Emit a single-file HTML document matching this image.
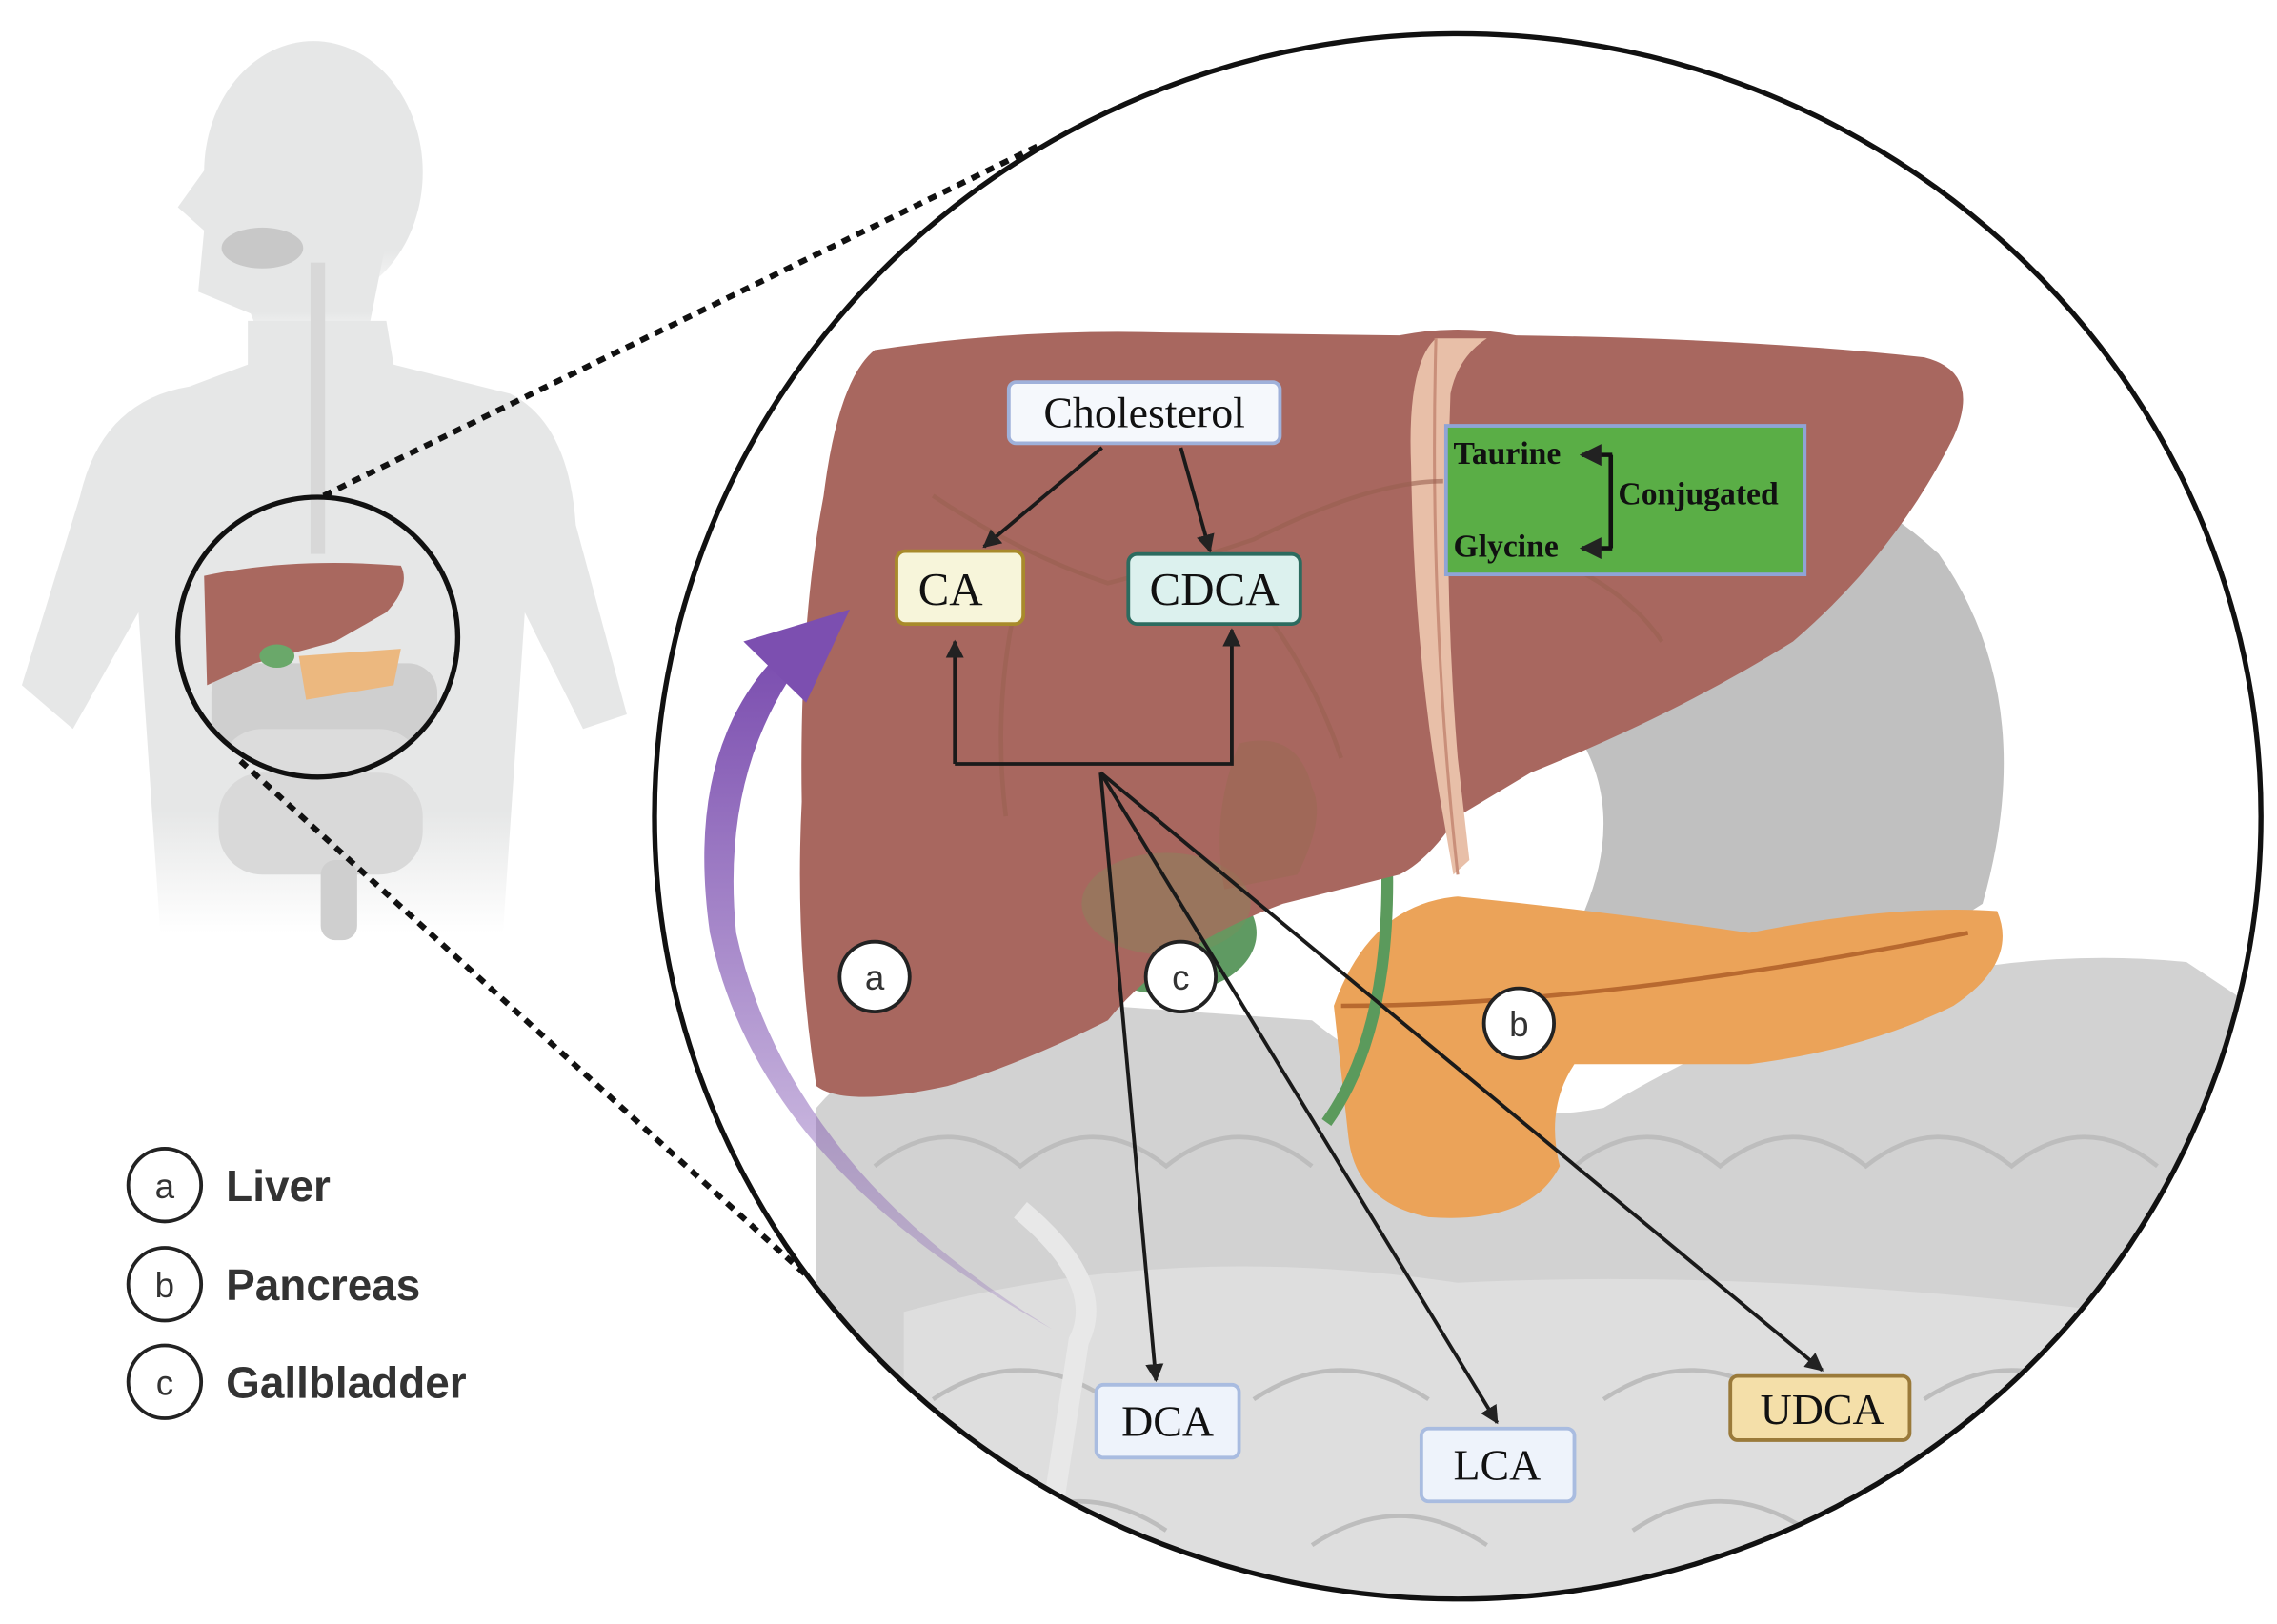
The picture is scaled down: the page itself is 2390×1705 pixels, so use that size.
<!DOCTYPE html>
<html><head><meta charset="utf-8"><style>
html,body{margin:0;padding:0;background:#fff;}
svg{display:block;}
.t{font-family:"Liberation Serif",serif;fill:#111;}
.s{font-family:"Liberation Sans",sans-serif;fill:#333;}
</style></head><body>
<svg width="2390" height="1705" viewBox="0 0 1562 1114" xmlns="http://www.w3.org/2000/svg">
<defs>
<marker id="ah" viewBox="0 0 10 10" refX="9" refY="5" markerWidth="5" markerHeight="5" orient="auto"><path d="M0,0 L10,5 L0,10 z" fill="#222"/></marker>
<clipPath id="bc"><ellipse cx="1000" cy="560" rx="551" ry="537"/></clipPath>
<clipPath id="sc"><circle cx="218" cy="437" r="95"/></clipPath>
<linearGradient id="fade" x1="0" y1="0" x2="0" y2="1"><stop offset="0.8" stop-color="#e6e7e7"/><stop offset="1" stop-color="#e6e7e7" stop-opacity="0"/></linearGradient>
<linearGradient id="pg" x1="0" y1="0" x2="0" y2="1"><stop offset="0" stop-color="#7c4fb0" stop-opacity="1"/><stop offset="1" stop-color="#7c4fb0" stop-opacity="0.2"/></linearGradient>
</defs>
<!-- human silhouette -->
<g fill="url(#fade)">
<ellipse cx="215" cy="118" rx="75" ry="90"/>
<path d="M145,110 L122,142 L140,158 L136,200 L172,215 L182,240 L250,240 L262,180 L275,120 Z"/>
<path d="M170,220 L265,220 L270,250 L350,270 Q390,290 395,360 L430,490 L400,500 L360,420 L345,640 L110,640 L95,420 L50,500 L15,470 L55,340 Q70,275 130,265 L170,250 Z"/>
</g>
<path d="M218,180 L218,380" stroke="#d8d8d8" stroke-width="10" fill="none"/>
<ellipse cx="180" cy="170" rx="28" ry="14" fill="#c8c8c8"/>
<g clip-path="url(#sc)">
<rect x="145" y="455" width="155" height="60" rx="20" fill="#cfcfcf"/>
<rect x="150" y="500" width="140" height="100" rx="30" fill="#dcdcdc"/>
<path d="M140,395 Q200,382 275,388 Q282,402 265,420 L230,440 L175,455 L142,470 Z" fill="#a9685f"/>
<path d="M205,450 L275,445 L270,470 L210,480 Z" fill="#ecb87f"/>
<ellipse cx="190" cy="450" rx="12" ry="8" fill="#6aa86a"/>
</g>
<g fill="#cfcfcf">
<rect x="150" y="530" width="140" height="70" rx="30" fill="#d9d9d9"/>
<rect x="220" y="590" width="25" height="55" rx="10"/>
</g>
<circle cx="218" cy="437" r="96" fill="none" stroke="#111" stroke-width="3.5"/>
<!-- dotted lines -->
<line x1="222" y1="340" x2="712" y2="100" stroke="#111" stroke-width="4" stroke-dasharray="6,5"/>
<line x1="165" y1="522" x2="572" y2="892" stroke="#111" stroke-width="4" stroke-dasharray="6,5"/>
<!-- big circle contents -->
<ellipse cx="1000" cy="560" rx="551" ry="537" fill="#fff"/>
<g clip-path="url(#bc)">
<path d="M960,320 Q1200,260 1330,380 Q1400,480 1360,620 L1250,690 Q1150,700 1080,640 Q1120,560 1080,500 L940,470 Z" fill="#c0c0c0"/>
<path d="M560,760 Q620,690 760,690 L900,700 Q1000,780 1100,760 Q1300,640 1500,660 L1560,700 L1560,1120 L560,1120 Z" fill="#d2d2d2"/>
<path d="M620,900 Q800,850 1000,880 Q1200,870 1450,900 L1450,1120 L620,1120 Z" fill="#dedede"/>
<g fill="none" stroke="#bdbdbd" stroke-width="3">
<path d="M600,800 Q650,760 700,800 Q750,760 800,800 Q850,760 900,800"/>
<path d="M1080,800 Q1130,760 1180,800 Q1230,760 1280,800 Q1330,760 1380,800 Q1430,760 1480,800"/>
<path d="M640,960 Q700,920 760,960 M860,960 Q920,920 980,960 M1100,960 Q1160,920 1220,960 M1320,960 Q1380,920 1440,960"/>
<path d="M680,1050 Q740,1010 800,1050 M900,1060 Q960,1020 1020,1060 M1120,1050 Q1180,1010 1240,1050"/>
</g>
<path d="M700,830 Q760,880 740,920 L720,1050" stroke="#e8e8e8" stroke-width="14" fill="none"/>
<path d="M915,690 Q940,620 1000,615 Q1100,625 1200,640 Q1300,620 1370,625 Q1385,660 1340,690 Q1280,720 1200,730 L1080,730 Q1060,760 1070,800 Q1050,840 980,835 Q930,825 925,780 Z" fill="#eba359"/>
<path d="M920,690 Q1100,690 1350,640" stroke="#b8692f" stroke-width="3" fill="none"/>
<path d="M950,560 Q960,700 910,770" stroke="#5b9a5c" stroke-width="8" fill="none"/>
<ellipse cx="800" cy="640" rx="62" ry="42" fill="#5f9a62"/>
<path d="M600,240 Q700,225 800,228 L960,230 Q1000,222 1040,230 Q1200,232 1320,245 Q1360,255 1340,300 Q1300,380 1230,440 Q1150,490 1050,530 L1000,560 Q980,590 960,600 L880,620 Q800,650 760,700 Q700,730 650,745 Q580,760 560,745 Q545,650 550,550 Q548,430 565,340 Q575,260 600,240 Z" fill="#a8675f"/>
<ellipse cx="800" cy="620" rx="58" ry="35" fill="#7f8f5c" opacity="0.35"/>
<path d="M985,232 Q965,250 968,320 Q970,450 990,560 L997,600 L1008,590 L1000,520 Q990,400 995,270 Q1000,245 1020,232 Z" fill="#e8bfa8"/>
<path d="M985,232 Q980,420 1000,600" stroke="#c98f7a" stroke-width="2" fill="none"/>
<g fill="none" stroke="#996050" stroke-width="3" opacity="0.6">
<path d="M640,340 Q700,380 760,400 Q800,390 860,370 Q940,330 990,330"/>
<path d="M700,400 Q680,480 690,560"/>
<path d="M860,410 Q900,460 920,520"/>
<path d="M1080,390 Q1120,410 1140,440"/>
</g>
<path d="M850,510 Q890,500 900,540 Q910,560 890,600 L840,610 Q830,560 850,510 Z" fill="#9d6a55" opacity="0.7"/>
</g>
<ellipse cx="1000" cy="560" rx="551" ry="537" fill="none" stroke="#111" stroke-width="3.5"/>
<path d="M722,912 Q520,800 487,640 Q470,520 528,455 L540,468 Q495,540 505,640 Q540,800 722,912 Z" fill="url(#pg)"/>
<path d="M510,440 L583,418 L553,482 Z" fill="#7c4fb0"/>
<rect x="692" y="262" width="186" height="42" rx="5" fill="#f5f8fc" stroke="#9fb1da" stroke-width="2.5"/>
<text x="785" y="293" text-anchor="middle" class="t" font-size="30">Cholesterol</text>
<rect x="615" y="378" width="87" height="50" rx="6" fill="#f7f5da" stroke="#a88a2b" stroke-width="2.5"/>
<text x="652" y="415" text-anchor="middle" class="t" font-size="32">CA</text>
<rect x="774" y="380" width="118" height="48" rx="6" fill="#dcf1ee" stroke="#2c6b5f" stroke-width="2.5"/>
<text x="833" y="415" text-anchor="middle" class="t" font-size="32">CDCA</text>
<rect x="992" y="292" width="246" height="102" fill="#5aae46" stroke="#8fa4d6" stroke-width="2.5"/>
<text x="997" y="318" class="t" font-size="22" font-weight="bold">Taurine</text>
<text x="997" y="382" class="t" font-size="22" font-weight="bold">Glycine</text>
<text x="1110" y="346" class="t" font-size="22" font-weight="bold">Conjugated</text>
<path d="M1105,312 L1105,376" stroke="#111" stroke-width="3" fill="none"/>
<line x1="1106" y1="312" x2="1085" y2="312" stroke="#111" stroke-width="3" marker-end="url(#ah)"/>
<line x1="1106" y1="376" x2="1085" y2="376" stroke="#111" stroke-width="3" marker-end="url(#ah)"/>
<rect x="752" y="950" width="98" height="50" rx="5" fill="#eef3fb" stroke="#a9bce0" stroke-width="2.5"/>
<text x="801" y="985" text-anchor="middle" class="t" font-size="30">DCA</text>
<rect x="975" y="980" width="105" height="50" rx="5" fill="#eef3fb" stroke="#a9bce0" stroke-width="2.5"/>
<text x="1027" y="1015" text-anchor="middle" class="t" font-size="30">LCA</text>
<rect x="1187" y="944" width="123" height="44" rx="5" fill="#f4dfa9" stroke="#9a7a3a" stroke-width="2.5"/>
<text x="1250" y="977" text-anchor="middle" class="t" font-size="30">UDCA</text>
<g stroke="#1a1a1a" stroke-width="2.5" fill="none" marker-end="url(#ah)">
<line x1="756" y1="307" x2="675" y2="375"/>
<line x1="810" y1="307" x2="830" y2="378"/>
<path d="M655,524 L655,440"/>
<path d="M655,524 L845,524 L845,432"/>
<line x1="755" y1="530" x2="793" y2="947"/>
<line x1="755" y1="530" x2="1027" y2="976"/>
<line x1="755" y1="530" x2="1250" y2="940"/>
</g>
<g fill="#fff" stroke="#222" stroke-width="2.5">
<circle cx="600" cy="670" r="24"/><circle cx="810" cy="670" r="24"/><circle cx="1042" cy="702" r="24"/>
</g>
<text x="600" y="679" text-anchor="middle" class="s" font-size="24">a</text>
<text x="810" y="679" text-anchor="middle" class="s" font-size="24">c</text>
<text x="1042" y="711" text-anchor="middle" class="s" font-size="24">b</text>
<g fill="#fff" stroke="#222" stroke-width="2.5">
<circle cx="113" cy="813" r="25"/><circle cx="113" cy="881" r="25"/><circle cx="113" cy="948" r="25"/>
</g>
<text x="113" y="822" text-anchor="middle" class="s" font-size="24">a</text>
<text x="113" y="890" text-anchor="middle" class="s" font-size="24">b</text>
<text x="113" y="957" text-anchor="middle" class="s" font-size="24">c</text>
<text x="155" y="824" class="s" font-size="30" font-weight="bold" fill="#444">Liver</text>
<text x="155" y="892" class="s" font-size="30" font-weight="bold" fill="#444">Pancreas</text>
<text x="155" y="959" class="s" font-size="30" font-weight="bold" fill="#444">Gallbladder</text>
</svg>
</body></html>
